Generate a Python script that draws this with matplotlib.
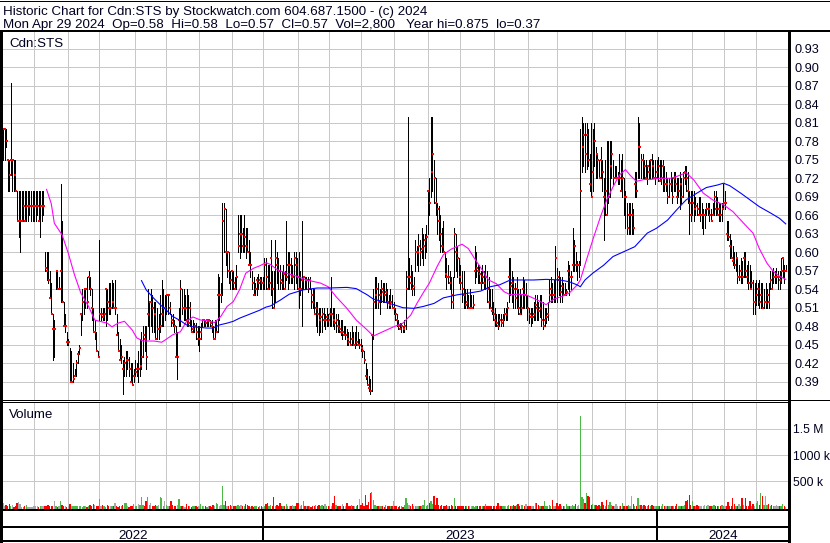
import matplotlib
matplotlib.use("Agg")
import matplotlib.pyplot as plt
import matplotlib.transforms as mtransforms
from matplotlib.lines import Line2D
import numpy as np

plt.rcParams['font.family'] = ['Liberation Sans', 'DejaVu Sans']

W, H = 830, 543

title_line = "Historic Chart for Cdn:STS by Stockwatch.com 604.687.1500 - (c) 2024"
quote_line = ("Mon Apr 29 2024  Op=0.58  Hi=0.58  Lo=0.57  Cl=0.57  Vol=2,800   "
              "Year hi=0.875  lo=0.37")
symbol = "Cdn:STS"

# daily bars, in cents (May 2022 .. Apr 29 2024)
highs = [
    80, 80, 80, 75, 75, 87.5, 75, 75, 75, 70,
    70, 70, 70, 70, 70, 70, 70, 70, 70, 70,
    70, 70, 70, 70, 70, 70, 70, 60, 60, 60,
    57, 55, 50, 49, 57, 57, 56, 71, 65, 52,
    50, 47, 46, 44.5, 44, 42, 41, 42.5, 44, 45,
    50, 54, 54, 54, 56, 57, 56, 54, 51, 49,
    47, 44, 62, 51, 51, 51, 54, 54, 55, 55,
    55.5, 55, 55.5, 50, 47, 46, 45, 42.5, 43, 44,
    44, 43, 42, 42, 41, 42.5, 42, 44, 46, 47,
    48, 48, 48, 54, 52, 54, 53, 52, 52, 51,
    50, 53, 55.5, 54, 53, 53, 53, 52, 50, 50,
    49, 48, 47, 51, 55.5, 54, 54, 53, 54, 53,
    52, 49, 49, 48.5, 48.5, 48, 48, 48.5, 49, 49,
    49, 49, 49, 49, 49, 48, 49, 49, 56.5, 56,
    55, 68, 68, 67, 60, 60, 57, 57, 57, 56,
    58, 66, 66, 66, 64, 66, 64, 64, 62, 60,
    57, 56, 55, 56, 56.5, 56, 56, 56, 59, 59,
    58, 58, 62, 57, 57, 62, 60, 59, 58, 57,
    58, 57, 65, 60, 60, 59, 58, 60, 60, 59,
    60, 57, 65, 56, 56, 56, 56, 56, 54, 54,
    54, 52, 52, 51, 51, 51, 51, 50, 51, 50,
    51, 56, 51, 51, 50, 50, 49, 49, 49, 48,
    48, 47.5, 47, 47, 48, 47, 47, 48, 47, 46,
    46, 45, 44, 42, 41, 40, 39.5, 46.5, 54, 56,
    56, 55, 54, 55.5, 55, 55, 55, 54, 53, 54,
    53, 52, 51, 50, 49, 48.5, 48.5, 48, 49, 57,
    82, 59, 58, 57, 56, 62, 61, 63, 62, 64,
    63, 63, 64.5, 70, 72, 82, 82, 75, 72, 68,
    67.5, 66, 64, 65, 60, 59, 58, 57, 56, 56,
    64, 63, 61, 59, 58, 57, 57, 54, 54, 53,
    54, 53, 53, 61, 60, 58, 58, 57, 58, 57,
    58, 57, 56, 54, 54, 52, 51, 50, 50, 50,
    50, 50, 51, 51, 52, 59, 59, 57, 56, 55,
    56, 54, 54, 53, 56, 55.5, 55, 53, 51, 51,
    51, 52, 53, 53, 52, 53, 53, 52, 51, 51,
    52, 55.5, 56, 55, 55.5, 61, 57.5, 57, 56, 56,
    55, 55, 54, 58.5, 58, 57, 64, 62, 60, 58.5,
    58.5, 80, 82, 81, 81, 81, 80, 76, 81, 80,
    81, 77, 76, 75, 77, 75, 72, 75, 78, 78,
    78, 78, 75, 74, 74, 73, 76, 75, 76, 72,
    70, 68, 68, 68, 68, 67, 73, 73, 82, 81,
    76, 76, 75, 75, 74, 75, 75, 76, 75, 75,
    75, 75.5, 75, 75, 75, 74, 73, 72, 72, 73,
    72, 73, 73, 72, 72, 73, 72, 73, 74, 74,
    73, 70, 70, 70, 70, 69, 68, 69, 69, 68,
    67, 67, 68, 68, 68, 67, 68, 70, 70, 69,
    68, 68, 68, 71, 70, 65, 65, 63, 62, 61,
    60, 60, 59, 58, 59, 58.5, 60, 60, 58, 58.5,
    58, 57, 55.5, 55, 55.5, 55, 55.5, 55, 55, 54,
    55, 54, 55, 57, 57, 57.5, 57, 57.5, 57, 57,
    59, 59, 58, 58,
]
lows = [
    75, 75, 77, 70, 70, 72.5, 70, 70, 70, 65,
    62.5, 60, 65, 65, 65, 65, 65, 66, 65, 65,
    65, 65, 66, 65, 62.5, 65, 66, 57, 55.5, 55,
    52.5, 50, 42.5, 43, 54, 54, 54, 52, 52, 48,
    47, 45, 45, 39, 39, 39, 40, 40, 42, 43.5,
    46.5, 49, 50, 51, 51, 54, 53, 49, 47, 46,
    44, 43, 49, 49, 49, 49, 48, 49, 50, 50,
    51, 51, 50, 46.5, 44, 42.5, 42, 37, 40, 40,
    41, 40, 39, 38.5, 39, 40, 40, 39, 40, 41,
    43, 44, 41, 48, 46, 48, 47, 47, 46, 46,
    46, 47, 48, 48, 49, 50, 50, 50, 48, 48,
    47, 43, 39.5, 48, 48, 50, 49, 49, 48, 48,
    48, 47, 47, 47, 46, 45, 44, 46, 48, 48,
    48, 48, 48, 48, 47, 46, 46, 47, 47, 49,
    52, 53, 60, 58, 56, 55, 54, 54, 54, 54,
    54, 60, 59, 60, 60, 60, 59, 60, 58, 56,
    54, 53, 53, 53, 54, 54, 54, 54, 54, 54,
    54, 54, 53, 51, 51, 52, 55, 54, 54, 54,
    54, 54, 55.5, 54, 55, 55, 55, 54, 55, 54,
    51, 53, 48, 54, 54, 54, 53.5, 54, 51, 51,
    50, 48, 47, 46.5, 47, 47, 48, 47.5, 48, 48,
    48, 48, 48, 47.5, 47, 47, 47, 46.5, 46, 46.5,
    46, 45, 45, 45, 45, 45, 44.5, 45, 45, 44.5,
    44, 43, 42, 39.5, 38.5, 37.5, 37, 37.5, 46, 51,
    51, 51, 50, 52, 52, 52, 52, 51, 51, 51,
    51, 50, 49, 48, 47.5, 47.5, 47, 47, 47, 47.5,
    54, 54, 54, 53, 53, 57, 58, 57, 58, 59,
    58, 59, 60, 63, 66, 69, 70, 68, 66, 63,
    62, 60, 60, 60, 56, 54, 55, 54, 51, 51,
    56, 57, 56, 55, 54, 52, 51, 51, 51, 51,
    51, 51, 51, 55, 56, 55, 55, 54, 55, 54,
    54, 52, 51, 51, 50, 49, 48, 48, 47.5, 48,
    48, 48, 49, 49, 49, 52, 53, 52, 51, 51,
    51, 50, 50, 50, 51, 51, 51, 49, 48.5, 48,
    48.5, 49, 49, 49, 49, 49.5, 48, 47.5, 48, 48.5,
    49, 52, 52, 52, 52, 52, 52, 53, 52, 52,
    53, 53, 53, 54, 53, 54, 57, 57, 57, 55.5,
    56, 58, 73, 74, 73, 73.5, 74, 70, 69, 70,
    74, 72, 72, 72, 72, 70, 62, 66, 66, 68,
    69, 72, 71, 72, 72, 71, 71, 70, 69, 66,
    64, 63, 63, 63, 63, 63, 69, 69, 72, 72,
    72, 72, 72, 72, 71, 72, 72, 72, 72, 71,
    72, 71.5, 71.5, 71, 70, 70, 70, 68, 69, 70,
    68, 70, 70, 68, 69, 67, 68, 69, 71, 70,
    68, 63, 65, 66, 65, 66, 66, 66, 65, 64,
    63, 64, 66, 66, 65, 65, 66, 66, 66, 66,
    65, 65, 65, 67, 67, 62, 62, 59, 59, 58,
    57.5, 57, 55, 55.5, 55, 55, 56, 56, 55, 54,
    54, 54, 50, 50, 51.5, 51.5, 51, 51, 51, 51,
    51, 51, 51, 54, 54, 55, 55, 55, 54, 54,
    55, 56, 55, 57,
]
closes = [
    80, 80, 78, 75, 72.5, 75, 75, 72.5, 70, 65,
    65, 65, 65, 67.5, 65, 67.5, 67.5, 67.5, 67.5, 67.5,
    67.5, 67.5, 67.5, 65, 67.5, 67.5, 67.5, 57.5, 57, 55.5,
    52.5, 50, 47.5, 47.5, 57, 54, 54, 57, 52, 48,
    48, 45.5, 45.5, 39, 39, 39.5, 40, 42, 43.5, 44.5,
    50, 52, 54, 54, 52, 56, 54, 51, 47, 47,
    44, 43, 50, 50, 49.5, 50, 54, 52, 51, 51,
    52, 51, 51, 46.5, 44, 42.5, 43, 41, 42, 42.5,
    42.5, 41, 39, 38.5, 40, 40.5, 41, 41, 41.5, 43,
    46.5, 46, 43, 50, 52, 52, 51, 50, 46, 47.5,
    47.5, 48, 50, 51, 51, 53, 53, 51, 49, 48.5,
    48, 43, 43, 49, 54, 51, 51, 51, 49, 48.5,
    51, 47, 47.5, 48, 47, 46, 46, 47, 49, 49,
    48.5, 49, 49, 48.5, 48, 46, 46, 47, 53, 53,
    53, 65, 67, 60, 60, 57, 55.5, 57, 55, 54,
    56, 61, 63, 63, 61, 62.5, 61, 60, 58, 58,
    55, 53, 54, 55.5, 55, 55.5, 55, 55, 58, 56,
    54, 55, 59, 54, 51, 59, 58, 57, 55.5, 55,
    56.5, 54, 56, 58, 58, 56, 56, 59, 58, 56,
    54, 54, 55.5, 56, 55.5, 55.5, 54, 55.5, 53, 52,
    50, 51, 50, 49, 49.5, 50, 49, 49, 49.5, 49,
    50, 50, 49, 48.5, 49, 48, 47.5, 47, 47, 46.5,
    46.5, 46, 45.5, 45, 46, 45, 45, 45.5, 45, 45,
    44.5, 44, 42.5, 40, 38.5, 38, 37.5, 46.5, 52, 53,
    54, 52, 53, 54, 53.5, 53, 53.5, 52, 51.5, 52,
    51, 51, 50, 49, 48, 47.5, 48, 47.5, 48, 54,
    56, 56, 55, 54, 54.5, 60, 60, 61, 60, 60.5,
    61, 62, 62.5, 70, 68, 73, 76, 72, 68, 67,
    65, 63, 61, 60, 56.5, 56, 56, 55, 53, 52,
    63, 60, 59, 56, 55, 54, 53, 51.5, 52, 51,
    51, 51, 51.5, 57, 57.5, 57, 56.5, 55, 56, 55,
    56, 54, 52, 51, 50.5, 50, 49, 48.5, 48, 49,
    48.5, 49, 50, 50, 51, 56, 54.5, 55, 54, 52.5,
    54, 51, 50, 51, 54, 53, 53, 51, 50, 49.5,
    49.5, 50, 51.5, 51, 50.5, 51, 49, 48, 49, 49.5,
    50, 53, 54, 53, 53, 59, 56, 55.5, 53.5, 54.5,
    53, 53, 53.5, 57, 56, 56, 58, 61, 58, 58,
    58, 70, 77, 79, 76, 79, 75, 71, 69, 73,
    78, 76, 75, 72, 75, 73, 69, 70, 66, 69,
    74, 76, 72, 72, 72, 72, 72, 70, 72, 69,
    69, 64, 66, 66, 66, 64, 71, 70, 77, 77,
    75, 75, 74, 72, 74, 73, 75, 74, 72, 72,
    73, 74, 71.5, 72, 74, 71, 71, 69, 71, 71,
    69, 72, 71, 69, 70, 71, 69, 72, 73, 72,
    70, 68, 66, 68, 67, 67.5, 67, 66, 66, 66,
    66, 66, 67, 67, 66, 65, 66, 69, 67, 66,
    67, 66, 67, 68, 68, 63, 62.5, 61, 59, 58.5,
    58, 59, 56, 56, 57, 56, 59, 57, 56, 55,
    54, 55, 52, 52, 53, 54, 52, 53, 51, 52,
    52, 53, 52, 55.5, 54, 56, 56, 56, 56, 55.5,
    57, 59, 57, 57,
]
# daily volume, thousands of shares
volumes_k = [
    90, 30, 48, 20, 60, 25, 40, 15, 20, 90,
    105, 60, 15, 10, 20, 48, 15, 10, 15, 12,
    30, 20, 35, 15, 30, 25, 20, 35, 25, 40,
    30, 20, 25, 120, 20, 15, 30, 120, 40, 20,
    25, 15, 20, 70, 20, 30, 25, 30, 20, 25,
    20, 15, 25, 20, 15, 30, 50, 25, 60, 40,
    30, 20, 160, 20, 40, 30, 15, 50, 25, 20,
    30, 20, 90, 20, 15, 25, 20, 40, 85, 80,
    20, 15, 30, 20, 60, 25, 20, 70, 40, 190,
    40, 30, 130, 190, 40, 85, 30, 20, 40, 30,
    40, 190, 180, 30, 120, 40, 20, 30, 130, 40,
    30, 20, 40, 155, 30, 20, 25, 15, 70, 20,
    20, 15, 25, 20, 30, 15, 20, 70, 30, 20,
    30, 15, 20, 25, 15, 40, 30, 90, 70, 30,
    40, 405, 40, 120, 30, 20, 40, 25, 20, 35,
    30, 50, 25, 40, 20, 30, 60, 40, 25, 15,
    20, 15, 25, 20, 15, 20, 25, 15, 20, 60,
    90, 30, 40, 25, 190, 30, 40, 20, 85, 30,
    30, 20, 60, 25, 30, 20, 40, 30, 25, 90,
    90, 30, 40, 130, 30, 25, 20, 30, 15, 20,
    20, 40, 30, 50, 25, 40, 20, 60, 30, 20,
    30, 25, 85, 210, 40, 30, 20, 25, 70, 30,
    30, 90, 25, 20, 40, 20, 30, 25, 40, 160,
    40, 85, 30, 240, 40, 110, 270, 285, 150, 40,
    30, 20, 25, 30, 20, 15, 50, 20, 25, 30,
    30, 120, 30, 20, 15, 25, 20, 15, 40, 180,
    90, 40, 30, 60, 30, 20, 25, 30, 20, 30,
    40, 150, 30, 40, 90, 120, 60, 210, 40, 180,
    50, 30, 40, 25, 30, 45, 20, 30, 40, 25,
    180, 30, 20, 30, 25, 20, 30, 25, 30, 20,
    20, 30, 25, 15, 30, 20, 25, 30, 20, 25,
    60, 20, 25, 30, 20, 25, 30, 20, 90, 30,
    25, 30, 20, 30, 20, 48, 30, 20, 40, 30,
    40, 70, 30, 50, 40, 30, 70, 20, 30, 25,
    30, 20, 90, 85, 40, 20, 30, 25, 120, 30,
    30, 40, 20, 150, 30, 25, 90, 30, 70, 30,
    30, 20, 70, 25, 30, 20, 40, 20, 60, 30,
    40, 1755, 196, 167, 80, 270, 226, 190, 40, 60,
    50, 40, 30, 40, 30, 107, 40, 30, 137, 50,
    107, 40, 30, 25, 60, 30, 20, 25, 90, 30,
    30, 20, 40, 30, 210, 70, 30, 25, 180, 40,
    40, 30, 50, 20, 30, 45, 25, 40, 20, 30,
    25, 20, 30, 20, 60, 25, 20, 30, 25, 20,
    20, 25, 30, 60, 20, 25, 30, 20, 40, 120,
    150, 240, 40, 120, 30, 20, 50, 30, 20, 25,
    30, 40, 20, 50, 25, 30, 20, 40, 25, 30,
    20, 30, 48, 25, 30, 20, 107, 30, 25, 180,
    60, 30, 20, 60, 30, 180, 40, 180, 30, 25,
    120, 30, 60, 30, 90, 120, 40, 270, 210, 40,
    220, 40, 60, 30, 40, 25, 30, 45, 20, 30,
    30, 60, 25, 3,
]

# moving averages as drawn (bar index, cents)
ma_fast = [
    (28, 70.2), (31, 67.9), (33, 64.7), (38, 62.8), (42, 59.8), (46, 56.3),
    (50, 53.4), (55, 51.2), (59, 49.0), (62, 48.8), (67, 48.5), (70, 47.9),
    (74, 48.5), (78, 48.8), (83, 47.4), (86, 46.1), (90, 45.6), (97, 45.6),
    (102, 45.4), (105, 45.9), (109, 46.6), (114, 47.1), (118, 48.8), (122, 49.5),
    (127, 49.0), (131, 48.9), (136, 48.6), (140, 49.6), (144, 51.2), (148, 52.0),
    (152, 53.9), (156, 56.6), (161, 57.4), (165, 57.8), (169, 58.3), (172, 58.0),
    (176, 57.2), (182, 56.6), (189, 56.1), (195, 55.5), (204, 55.0), (209, 54.4),
    (214, 52.8), (221, 50.9), (227, 49.0), (234, 47.4), (238, 46.4), (244, 47.1),
    (251, 47.9), (257, 48.5), (262, 49.8), (266, 51.7), (270, 53.4), (274, 55.0),
    (279, 57.7), (283, 59.6), (288, 60.5), (295, 61.3), (299, 60.6), (303, 59.0),
    (308, 57.1), (312, 55.5), (317, 54.9), (322, 53.6), (326, 53.1), (331, 53.2),
    (336, 53.1), (343, 52.3), (349, 51.5), (354, 52.4), (360, 52.9), (364, 53.4),
    (369, 54.7), (371, 55.5), (375, 58.8), (379, 62.0), (384, 65.8), (388, 68.5),
    (392, 70.6), (396, 72.5), (400, 73.4), (403, 72.5), (407, 71.5), (412, 71.8),
    (416, 71.8), (422, 72.0), (429, 72.0), (433, 72.3), (439, 72.9), (444, 71.7),
    (450, 69.6), (456, 68.5), (463, 67.7), (469, 66.6), (476, 64.7), (482, 63.1),
    (486, 60.6), (491, 58.2), (495, 56.9), (499, 56.1), (503, 55.6),
]
ma_slow = [
    (89, 55.4), (92, 53.9), (97, 52.5), (101, 51.5), (105, 50.6), (109, 49.6),
    (114, 48.9), (118, 48.2), (122, 47.9), (127, 47.8), (131, 47.7), (135, 47.7),
    (139, 48.2), (144, 48.5), (148, 48.8), (152, 49.3), (157, 49.8), (161, 50.2),
    (165, 50.6), (169, 51.1), (172, 51.3), (178, 52.2), (184, 53.2), (193, 53.9),
    (202, 54.2), (210, 54.2), (221, 54.3), (227, 54.1), (234, 53.1), (238, 52.4),
    (244, 52.0), (251, 51.5), (257, 51.0), (264, 50.9), (270, 51.2), (277, 51.7),
    (283, 52.6), (292, 53.1), (300, 53.4), (307, 53.7), (313, 54.4), (319, 54.7),
    (326, 55.5), (332, 55.5), (341, 55.5), (349, 55.6), (358, 55.5), (364, 55.2),
    (369, 54.7), (371, 54.4), (374, 55.5), (379, 56.6), (386, 57.9), (392, 59.3),
    (399, 60.1), (406, 60.9), (414, 63.1), (420, 63.9), (427, 65.2), (433, 66.9),
    (439, 68.5), (446, 69.6), (452, 70.5), (459, 70.9), (463, 71.2), (467, 70.8),
    (474, 69.6), (480, 68.5), (486, 67.4), (493, 66.4), (499, 65.5), (503, 64.6),
]

# month boundaries (in bars) and year labels
month_start_bars = [20.1, 42.0, 61.9, 84.6, 104.6, 126.2, 147.4, 167.3, 189.8, 209.3,
                    230.3, 251.1, 273.3, 293.7, 315.6, 337.2, 356.2, 378.7, 399.9,
                    420.5, 442.6, 463.2, 484.0]
year_start_bars = [167.3, 420.5]
year_labels = ["2022", "2023", "2024"]

price_ticks = [0.39, 0.42, 0.45, 0.48, 0.51, 0.54, 0.57, 0.60, 0.63, 0.66,
               0.69, 0.72, 0.75, 0.78, 0.81, 0.84, 0.87, 0.90, 0.93]
volume_ticks = [500000, 1000000, 1500000]
volume_tick_labels = ["500 k", "1000 k", "1.5 M"]


def fx(px):
    return px / W


def fy(py):
    return 1 - py / H


def px2pt(px):
    return px * 72 / 100


GRID = '#c8c8c8'
TXT = '#000020'
FS = 9.2
FS_HEAD = 9.6

fig = plt.figure(figsize=(W / 100, H / 100), dpi=100)
fig.patch.set_facecolor('white')

xmin, xmax = -0.64, 505.1

# ---- price panel
ax = fig.add_axes([fx(2), fy(400), fx(789) - fx(2), fy(32) - fy(400)])
ax.set_xlim(xmin, xmax)
ax.set_ylim(0.3603, 0.9573)
ax.set_yticks(price_ticks)
ax.set_yticklabels([f"{t:.2f}" for t in price_ticks])
ax.set_xticks(month_start_bars)
ax.set_xticklabels([])
ax.grid(True, color=GRID, linewidth=px2pt(1), antialiased=False)
ax.set_axisbelow(True)
ax.yaxis.tick_right()
ax.tick_params(axis='both', length=0)
ax.tick_params(axis='y', pad=px2pt(5), labelsize=FS, labelcolor=TXT)
for s in ax.spines.values():
    s.set_visible(False)

x = np.arange(len(highs))
hi = np.array(highs) / 100
lo = np.array(lows) / 100
cl = np.array(closes) / 100
ax.vlines(x, lo, hi, colors='black', linewidth=px2pt(1.0), antialiased=False)
ax.plot(x + 0.4, cl, linestyle='none', marker='s', markersize=px2pt(2.0),
        markerfacecolor='red', markeredgewidth=0, antialiased=False)

fi, fv = zip(*ma_fast)
ax.plot(fi, np.array(fv) / 100, color='#ff00ff', linewidth=px2pt(1.1))
si, sv = zip(*ma_slow)
ax.plot(si, np.array(sv) / 100, color='#0000ff', linewidth=px2pt(1.1))

# ---- volume panel
vax = fig.add_axes([fx(2), fy(509.5), fx(789) - fx(2), fy(402.3) - fy(509.5)])
vax.set_xlim(xmin, xmax)
vol_floor = -40000
vax.set_ylim(vol_floor, 2008000)
vax.set_yticks(volume_ticks)
vax.set_yticklabels(volume_tick_labels)
vax.set_xticks(month_start_bars)
vax.set_xticklabels([])
vax.grid(True, color=GRID, linewidth=px2pt(1), antialiased=False)
vax.set_axisbelow(True)
vax.yaxis.tick_right()
vax.tick_params(axis='both', length=0)
vax.tick_params(axis='y', pad=px2pt(4), labelsize=8.7, labelcolor=TXT)
for s in vax.spines.values():
    s.set_visible(False)

vol = np.array(volumes_k) * 1000.0
prev = np.concatenate([[cl[0]], cl[:-1]])
vcolors = np.where(cl > prev, '#4cb848', np.where(cl < prev, '#ff0000', '#a8a8a8'))
vax.bar(x, vol - vol_floor, bottom=vol_floor, width=0.85, color=vcolors, linewidth=0)

# ---- frame lines
def hline(py, x0, x1, lw):
    fig.add_artist(Line2D([fx(x0), fx(x1)], [fy(py), fy(py)], transform=fig.transFigure,
                          color='black', linewidth=px2pt(lw), antialiased=False))


def vline(px_, y0, y1, lw):
    fig.add_artist(Line2D([fx(px_), fx(px_)], [fy(y0), fy(y1)], transform=fig.transFigure,
                          color='black', linewidth=px2pt(lw), antialiased=False))


hline(0.5, 0, W, 1)
hline(31, 0, W, 2)
hline(400.3, 0, W, 1)
hline(402.3, 0, 789, 1)
hline(509.5, 0, 789, 2)
hline(526.7, 0, 789, 2)
hline(541.3, 0, 789, 2)
vline(1, 31, 542, 2.5)
vline(789, 31, 543, 2.5)

# year separators and labels on the date strip
trans = mtransforms.blended_transform_factory(ax.transData, fig.transFigure)
for b in year_start_bars:
    fig.add_artist(Line2D([b, b], [fy(509.5), fy(541.3)], transform=trans,
                          color='black', linewidth=px2pt(2), antialiased=False))
edges = [xmin] + year_start_bars + [xmax]
for k, lab in enumerate(year_labels):
    mid = (edges[k] + edges[k + 1]) / 2
    fig.text(mid, fy(539), lab, transform=trans, ha='center', va='baseline',
             fontsize=FS_HEAD, color=TXT)

# header texts
fig.text(fx(3), fy(15), title_line, ha='left', va='baseline', fontsize=FS_HEAD, color=TXT)
fig.text(fx(3), fy(27.7), quote_line, ha='left', va='baseline', fontsize=FS_HEAD, color=TXT)
fig.text(fx(9), fy(46.5), symbol, ha='left', va='baseline', fontsize=FS_HEAD, color=TXT)
fig.text(fx(9), fy(418), "Volume", ha='left', va='baseline', fontsize=FS_HEAD, color=TXT)

fig.savefig("out.png", dpi=100, facecolor='white')
